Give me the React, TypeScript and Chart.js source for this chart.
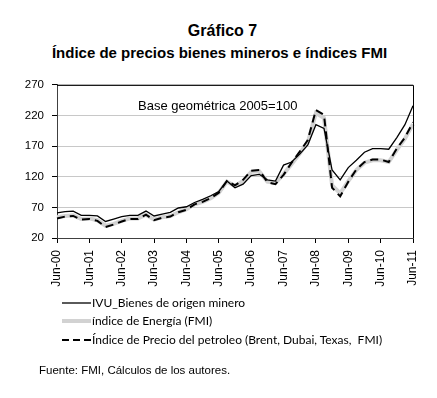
import React, { useEffect, useRef } from "react";
import { Chart, registerables } from "chart.js";

Chart.register(...registerables);

const categories = [
  "Jun-00", "Sep-00", "Dic-00", "Mar-01", "Jun-01", "Sep-01", "Dic-01", "Mar-02",
  "Jun-02", "Sep-02", "Dic-02", "Mar-03", "Jun-03", "Sep-03", "Dic-03", "Mar-04",
  "Jun-04", "Sep-04", "Dic-04", "Mar-05", "Jun-05", "Sep-05", "Dic-05", "Mar-06",
  "Jun-06", "Sep-06", "Dic-06", "Mar-07", "Jun-07", "Sep-07", "Dic-07", "Mar-08",
  "Jun-08", "Sep-08", "Dic-08", "Mar-09", "Jun-09", "Sep-09", "Dic-09", "Mar-10",
  "Jun-10", "Sep-10", "Dic-10", "Mar-11", "Jun-11",
];

const tickLabels = [
  "Jun-00", "Jun-01", "Jun-02", "Jun-03", "Jun-04", "Jun-05",
  "Jun-06", "Jun-07", "Jun-08", "Jun-09", "Jun-10", "Jun-11",
];

const yTicks = [20, 70, 120, 170, 220, 270];

const ivuMinero = [
  61, 63, 64, 57, 57, 56, 47, 51, 55, 57, 57, 64, 56, 59, 62, 69,
  71, 78, 83, 89, 96, 113, 102, 108, 122, 124, 115, 113, 139, 144, 157, 172,
  205, 199, 131, 115, 135, 147, 160, 166, 166, 165, 184, 205, 236,
];

const indiceEnergia = [
  54, 56, 57, 51, 52, 49, 40, 43, 48, 52, 52, 58, 50, 54, 56, 62,
  67, 75, 79, 85, 94, 112, 105, 113, 128, 129, 112, 110, 124, 141, 158, 176,
  224, 216, 106, 93, 113, 131, 143, 147, 147, 144, 164, 182, 206,
];

const indicePetroleo = [
  52, 55, 56, 50, 51, 48, 38, 42, 47, 51, 51, 58, 49, 53, 55, 62,
  66, 75, 79, 85, 94, 113, 106, 115, 130, 131, 111, 108, 123, 143, 161, 180,
  229, 221, 102, 88, 112, 132, 144, 148, 148, 144, 166, 184, 209,
];

const seriesNames = [
  "IVU_Bienes de origen minero",
  "índice de Energía (FMI)",
  "Índice de Precio del petroleo (Brent, Dubai, Texas,  FMI)",
];

const framePlugin = {
  id: "frame",
  afterDraw(chart: any) {
    const { ctx, chartArea } = chart;
    const { left, top, right, bottom } = chartArea;
    ctx.save();
    ctx.strokeStyle = "#000";
    ctx.lineWidth = 1;
    ctx.beginPath();
    ctx.moveTo(left, top + 0.5);
    ctx.lineTo(right + 0.5, top + 0.5);
    ctx.lineTo(right + 0.5, bottom);
    ctx.stroke();
    ctx.restore();
  },
};

function ChartCanvas() {
  const ref = useRef<HTMLCanvasElement | null>(null);
  useEffect(() => {
    if (!ref.current) return;
    const chart = new Chart(ref.current, {
      type: "line",
      data: {
        labels: categories,
        datasets: [
          {
            label: seriesNames[0],
            data: ivuMinero,
            borderColor: "#000",
            borderWidth: 1.3,
            pointRadius: 0,
            tension: 0,
            order: 2,
          },
          {
            label: seriesNames[1],
            data: indiceEnergia,
            borderColor: "#d2d2d2",
            borderWidth: 4,
            pointRadius: 0,
            tension: 0,
            order: 3,
          },
          {
            label: seriesNames[2],
            data: indicePetroleo,
            borderColor: "#000",
            borderWidth: 2,
            borderDash: [8, 5],
            pointRadius: 0,
            tension: 0,
            order: 1,
          },
        ],
      },
      options: {
        animation: false,
        responsive: true,
        maintainAspectRatio: false,
        layout: { padding: { left: 0, right: 24, top: 11, bottom: 0 } },
        plugins: { legend: { display: false }, tooltip: { enabled: false } },
        scales: {
          x: {
            type: "category",
            offset: false,
            afterFit: (s: any) => {
              s.height = 72;
            },
            afterBuildTicks: (s: any) => {
              s.ticks = s.ticks.filter((t: any) =>
                tickLabels.includes(categories[t.value])
              );
            },
            grid: {
              display: true,
              drawOnChartArea: false,
              drawTicks: true,
              tickLength: 5,
              tickColor: "#000",
              offset: false,
            },
            border: { display: true, color: "#404040", width: 1 },
            ticks: {
              autoSkip: false,
              minRotation: 90,
              maxRotation: 90,
              padding: 7,
              color: "#000",
              font: { family: "'Liberation Sans', Arial, sans-serif", size: 12 },
            },
          },
          y: {
            min: 20,
            max: 270,
            afterFit: (s: any) => {
              s.width = 57;
            },
            afterBuildTicks: (s: any) => {
              s.ticks = yTicks.map((v) => ({ value: v }));
            },
            grid: {
              color: "#c8c8c8",
              lineWidth: 1,
              tickLength: 5,
              tickColor: "#000",
            },
            border: { display: true, color: "#404040", width: 1 },
            ticks: {
              padding: 8,
              color: "#000",
              font: { family: "'Liberation Sans', Arial, sans-serif", size: 11.5 },
            },
          },
        },
      },
      plugins: [framePlugin],
    });
    return () => chart.destroy();
  }, []);
  return <canvas ref={ref} />;
}

function LegendSample({ kind }: { kind: number }) {
  if (kind === 0)
    return (
      <svg width={29} height={6} style={{ display: "block" }}>
        <line x1={0} y1={3} x2={29} y2={3} stroke="#000" strokeWidth={1.3} />
      </svg>
    );
  if (kind === 1)
    return (
      <svg width={29} height={6} style={{ display: "block" }}>
        <line x1={0} y1={3} x2={29} y2={3} stroke="#d2d2d2" strokeWidth={4} />
      </svg>
    );
  return (
    <svg width={29} height={6} style={{ display: "block" }}>
      <line x1={0} y1={3} x2={29} y2={3} stroke="#000" strokeWidth={2} strokeDasharray="7 4" />
    </svg>
  );
}

export default function App() {
  const legendY = [302.5, 320.5, 340];
  return (
    <div
      style={{
        position: "absolute",
        left: 0,
        top: 0,
        width: 437,
        height: 398,
        background: "#fff",
        overflow: "hidden",
        fontFamily: "'Liberation Sans', Arial, sans-serif",
        color: "#000",
      }}
    >
      <div
        style={{
          position: "absolute",
          left: 4,
          width: 437,
          top: 23,
          textAlign: "center",
          fontSize: 16,
          lineHeight: "16px",
          fontWeight: "bold",
        }}
      >
        Gráfico 7
      </div>
      <div
        style={{
          position: "absolute",
          left: 1,
          width: 437,
          top: 45,
          textAlign: "center",
          fontSize: 15,
          lineHeight: "15px",
          fontWeight: "bold",
        }}
      >
        Índice de precios bienes mineros e índices FMI
      </div>
      <div style={{ position: "absolute", left: 0, top: 70, width: 437, height: 240 }}>
        <ChartCanvas />
      </div>
      <div
        style={{
          position: "absolute",
          left: 138,
          top: 99,
          fontSize: 13,
          lineHeight: "13px",
          whiteSpace: "nowrap",
        }}
      >
        Base geométrica 2005=100
      </div>
      {seriesNames.map((name, i) => (
        <div
          key={name}
          style={{
            position: "absolute",
            left: 62,
            top: legendY[i] - 9,
            height: 18,
            display: "flex",
            alignItems: "center",
            whiteSpace: "pre",
          }}
        >
          <LegendSample kind={i} />
          <span
            style={{
              marginLeft: 1,
              fontFamily: "Lato, 'Noto Sans', sans-serif",
              fontSize: 12,
              lineHeight: "18px",
              whiteSpace: "pre",
            }}
          >
            {name}
          </span>
        </div>
      ))}
      <div
        style={{
          position: "absolute",
          left: 39,
          top: 364,
          fontSize: 11.5,
          lineHeight: "12px",
          whiteSpace: "nowrap",
        }}
      >
        Fuente: FMI, Cálculos de los autores.
      </div>
    </div>
  );
}
